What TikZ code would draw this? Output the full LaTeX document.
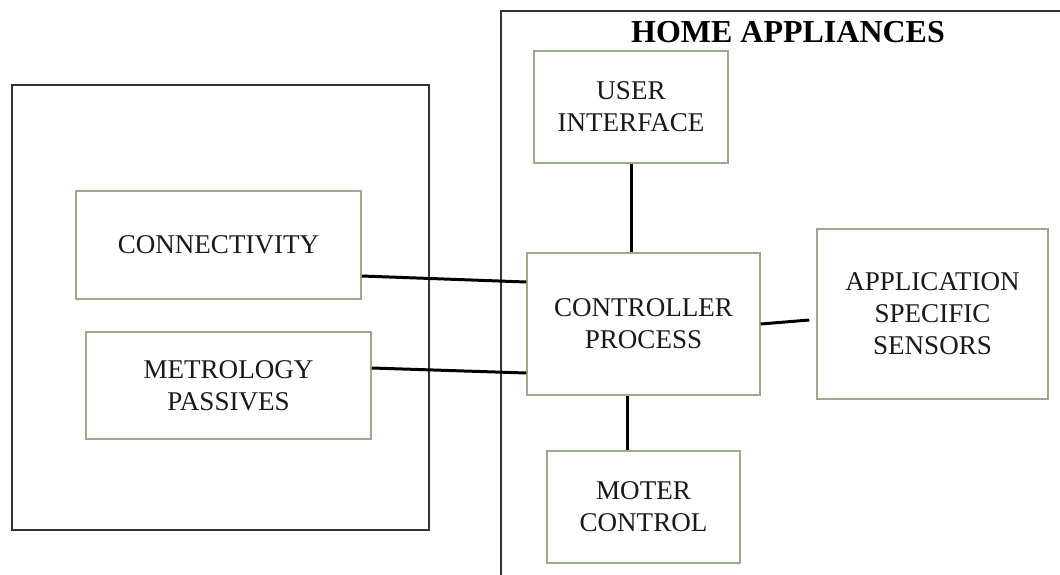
\documentclass[tikz,border=0pt]{standalone}
\usepackage{fontspec}
\setmainfont{Liberation Serif}

\definecolor{blockgreen}{HTML}{9AAB8A}
\definecolor{framegray}{HTML}{333333}

\begin{document}
\begin{tikzpicture}[
    block/.style={draw=blockgreen, line width=0.43pt, align=center, inner sep=0pt,
        text=black!90, font=\fontsize{7.7}{9.1}\selectfont},
    frame/.style={draw=framegray, line width=0.57pt},
    link/.style={black, line width=0.85pt}
]
    % Page area, everything outside is cut off
    \clip (0,0) rectangle (10.6,5.74);
    \fill[white] (0,0) rectangle (10.6,5.74);

    % Outer frames
    \draw[frame] (0.12,4.89) rectangle (4.29,0.44);
    \draw[frame] (5.01,-0.2) -- (5.01,5.63) -- (10.8,5.63);

    % Title
    \node (title) at (7.88,5.42) {\fontsize{9.1}{10}\selectfont\bfseries HOME APPLIANCES};

    % Blocks inside the appliance
    \node[block, minimum width=1.94cm, minimum height=1.12cm] (ui) at (6.31,4.67) {USER\\INTERFACE};
    \node[block, minimum width=2.33cm, minimum height=1.42cm] (ctrl) at (6.435,2.50) {CONTROLLER\\PROCESS};
    \node[block, minimum width=2.31cm, minimum height=1.70cm] (sens) at (9.325,2.60) {APPLICATION\\SPECIFIC\\SENSORS};
    \node[block, minimum width=1.93cm, minimum height=1.12cm] (motor) at (6.435,0.67) {MOTER\\CONTROL};

    % Blocks on the left side
    \node[block, minimum width=2.85cm, minimum height=1.08cm] (conn) at (2.185,3.29) {CONNECTIVITY};
    \node[block, minimum width=2.85cm, minimum height=1.07cm] (metro) at (2.285,1.885) {METROLOGY\\PASSIVES};

    % Links to the controller
    \draw[link] (ui.south) -- (ui.south |- ctrl.north);
    \draw[link] ([yshift=-0.31cm]conn.east) -- ([yshift=0.42cm]ctrl.west);
    \draw[link] ([yshift=0.175cm]metro.east) -- ([yshift=-0.49cm]ctrl.west);
    \draw[link] (ctrl.east) -- ([xshift=-0.07cm,yshift=-0.06cm]sens.west);
    \draw[link] ([xshift=-0.16cm]ctrl.south) -- ([xshift=-0.16cm]motor.north);

\end{tikzpicture}
\end{document}
